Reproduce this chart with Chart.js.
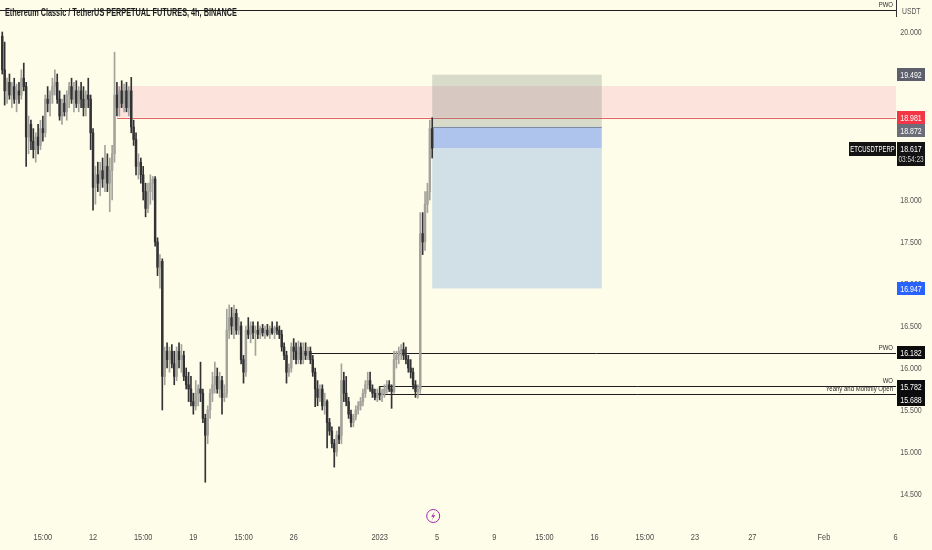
<!DOCTYPE html>
<html><head><meta charset="utf-8">
<script src="https://cdn.jsdelivr.net/npm/chart.js@4.4.0/dist/chart.umd.min.js"></script>
<style>html,body{margin:0;padding:0;background:#fefde9;}canvas{display:block}</style>
</head><body>
<canvas id="c" width="932" height="550" style="width:932px;height:550px"></canvas>
<script>
// ---- data (4h candles, ETCUSDT perpetual) ----
const opens=[19.95,19.55,19.3,19.4,19.25,19.35,19.2,19.3,19.25,19.45,
19.35,18.75,18.9,18.7,18.6,18.75,18.65,18.85,18.8,19.2,
19.15,19.25,19.35,19.4,19.2,19.0,19.15,19.05,19.25,19.35,
19.2,19.3,19.15,19.3,19.2,19.1,19.25,19.2,18.8,18.15,
18.3,18.2,18.35,18.25,18.4,18.2,18.35,18.55,19.25,19.1,
19.3,19.15,19.3,19.1,19.3,18.87,18.72,18.4,18.45,18.3,
18.1,17.9,18.1,18.2,18.25,17.5,17.2,17.27,15.9,16.2,
16.1,16.2,16.05,15.9,16.2,16.1,16.15,15.9,15.8,15.75,
15.6,15.55,15.7,15.75,15.7,15.4,15.2,15.5,15.7,15.8,
15.9,15.75,15.85,15.65,15.7,16.45,16.6,16.5,16.65,16.45,
16.5,16.1,15.95,16.45,16.4,16.5,16.42,16.45,16.4,16.47,
16.42,16.45,16.4,16.47,16.42,16.48,16.45,16.4,16.25,16.15,
15.95,16.0,16.25,16.2,16.1,16.25,16.1,16.2,16.15,16.2,
16.1,15.95,15.75,15.65,15.75,15.55,15.6,15.35,15.25,15.1,
15.0,15.2,15.2,15.85,15.7,15.6,15.45,15.35,15.42,15.5,
15.55,15.6,15.7,15.8,15.85,15.75,15.7,15.65,15.7,15.68,
15.7,15.75,15.8,15.75,15.72,16.1,16.15,16.2,16.22,16.15,
16.1,16.0,15.95,15.8,15.72,15.75,17.6,17.5,17.95,18.1,
18.85];
const highs=[20.0,19.88,19.45,19.5,19.4,19.45,19.38,19.4,19.55,19.63,
19.4,19.0,18.95,18.85,18.8,18.9,18.95,19.0,19.25,19.35,
19.3,19.45,19.55,19.5,19.3,19.2,19.25,19.3,19.4,19.45,
19.4,19.42,19.35,19.4,19.35,19.3,19.45,19.25,18.85,18.4,
18.45,18.45,18.5,18.65,18.55,18.5,18.65,19.76,19.4,19.35,
19.42,19.38,19.4,19.35,19.46,18.95,18.8,18.55,18.5,18.4,
18.2,18.2,18.3,18.28,18.28,17.55,17.35,17.3,16.25,16.3,
16.25,16.28,16.2,16.25,16.3,16.28,16.2,16.0,15.95,15.9,
15.7,15.85,15.8,16.07,15.75,15.45,15.55,15.75,15.95,16.07,
16.0,15.95,15.9,15.8,16.7,16.75,16.72,16.75,16.7,16.6,
16.55,16.15,16.5,16.6,16.55,16.55,16.5,16.55,16.5,16.52,
16.5,16.52,16.5,16.55,16.5,16.55,16.5,16.45,16.3,16.2,
16.05,16.3,16.35,16.3,16.32,16.3,16.3,16.3,16.25,16.25,
16.15,16.0,15.85,15.8,15.8,15.7,15.62,15.4,15.3,15.15,
15.25,15.3,16.05,15.95,15.9,15.65,15.5,15.45,15.55,15.6,
15.65,15.75,15.85,15.95,15.95,15.8,15.75,15.75,15.78,15.75,
15.8,15.85,15.85,15.8,16.2,16.2,16.25,16.28,16.3,16.25,
16.15,16.1,16.0,15.85,15.8,17.85,17.85,18.1,18.2,18.95,
18.98];
const lows=[19.5,19.13,19.15,19.2,19.1,19.15,19.05,19.15,19.2,19.3,
18.4,18.55,18.6,18.5,18.45,18.55,18.6,18.7,18.75,19.05,
19.0,19.15,19.25,19.15,18.95,18.9,19.0,18.95,19.1,19.15,
19.05,19.1,19.05,19.1,19.0,19.0,19.1,18.6,17.88,17.95,
18.1,18.05,18.15,18.1,18.1,17.86,18.0,18.45,19.0,19.0,
19.1,19.05,19.05,19.0,18.8,18.65,18.3,18.25,18.2,18.0,
17.8,17.85,17.95,18.0,17.45,17.1,16.95,15.5,15.8,16.0,
15.95,16.0,15.8,15.85,16.0,15.95,15.85,15.75,15.6,15.55,
15.45,15.5,15.55,15.6,15.35,14.64,15.1,15.4,15.6,15.7,
15.7,15.65,15.45,15.6,15.65,16.35,16.4,16.35,16.4,16.4,
16.05,15.82,15.9,16.35,16.3,16.35,16.15,16.35,16.35,16.38,
16.35,16.38,16.35,16.4,16.35,16.4,16.35,16.2,16.1,15.82,
15.9,15.95,16.1,16.05,16.05,16.05,16.05,16.1,16.1,16.05,
15.9,15.54,15.55,15.6,15.5,15.45,15.05,15.2,15.05,14.82,
14.95,15.1,15.1,15.6,15.55,15.4,15.3,15.3,15.38,15.45,
15.5,15.55,15.65,15.75,15.72,15.65,15.62,15.6,15.62,15.6,
15.65,15.7,15.72,15.52,15.7,16.0,16.05,16.1,16.1,16.05,
15.95,15.88,15.75,15.65,15.64,15.7,17.35,17.4,17.85,18.0,
18.5];
const closes=[19.55,19.3,19.4,19.25,19.35,19.2,19.3,19.25,19.45,19.35,
18.75,18.9,18.7,18.6,18.75,18.65,18.85,18.8,19.2,19.15,
19.25,19.35,19.4,19.2,19.0,19.15,19.05,19.25,19.35,19.2,
19.3,19.15,19.3,19.2,19.1,19.25,19.2,18.8,18.15,18.3,
18.2,18.35,18.25,18.4,18.2,18.35,18.55,19.25,19.1,19.3,
19.15,19.3,19.1,19.3,18.87,18.72,18.4,18.45,18.3,18.1,
17.9,18.1,18.2,18.25,17.5,17.2,17.27,15.9,16.2,16.1,
16.2,16.05,15.9,16.2,16.1,16.15,15.9,15.8,15.75,15.6,
15.55,15.7,15.75,15.7,15.4,15.2,15.5,15.7,15.8,15.9,
15.75,15.85,15.65,15.7,16.45,16.6,16.5,16.65,16.45,16.5,
16.1,15.95,16.45,16.4,16.5,16.42,16.45,16.4,16.47,16.42,
16.45,16.4,16.47,16.42,16.48,16.45,16.4,16.25,16.15,15.95,
16.0,16.25,16.2,16.1,16.25,16.1,16.2,16.15,16.2,16.1,
15.95,15.75,15.65,15.75,15.55,15.6,15.35,15.25,15.1,15.0,
15.2,15.15,15.85,15.7,15.6,15.45,15.35,15.42,15.5,15.55,
15.6,15.7,15.8,15.85,15.75,15.7,15.65,15.7,15.68,15.7,
15.75,15.8,15.75,15.72,16.1,16.15,16.2,16.22,16.15,16.1,
16.0,15.95,15.8,15.72,15.75,17.6,17.5,17.95,18.1,18.85,
18.617];
// time: days counted from Dec 1 2022 00:00; first candle Dec 5 16:00, 4h step
const firstCandleDay = 4 + 16/24;
const candleStepDay = 4/24;
const tickDays   = [7.5, 11, 14.5, 18, 21.5, 25, 31, 35, 39, 42.5, 46, 49.5, 53, 57, 62, 67];
const tickLabels = ['15:00','12','15:00','19','15:00','26','2023','5','9','15:00','16','15:00','23','27','Feb','6'];
const priceTicks = [14.5, 15, 15.5, 16, 16.5, 17, 17.5, 18, 18.5, 19, 19.5, 20];
// horizontal levels
const levelPrices = [20.262, 16.182, 15.782, 15.688];
const levelFromDays = [4.5, 25.25, 31, 31];
const levelNames = ['PWO', 'PWO', 'WO', 'Yearly and Monthly Open'];
// supply zone
const zonePrices = [19.357, 18.981];
const zoneFromDay = 12.667;
// short position tool
const positionDays = [34.667, 46.5];
const positionPrices = [19.492, 18.872, 18.617, 16.947]; // stop, entry, last, target
// axis price tags
const tagPrices = [19.492, 18.981, 18.872, 18.617, 16.947, 16.182, 15.782, 15.688];
const tagColors = ['#5d606b', '#f23645', '#6b6e78', '#131313', '#2962ff', '#0c0c0c', '#0c0c0c', '#0c0c0c'];
const symbolName = 'ETCUSDTPERP';
const countdown = '03:54:23';
const titleText = 'Ethereum Classic / TetherUS PERPETUAL FUTURES, 4h, BINANCE';
const currency = 'USDT';

const X_MIN = 4.508, X_MAX = 67.03, Y_MIN = 14.131, Y_MAX = 20.381;
const UP = '#a3a39c', DOWN = '#333336';
const FONT = "'Liberation Sans',Arial,sans-serif";

const candleDays = opens.map((_, i) => firstCandleDay + i * candleStepDay);
const wickData = candleDays.map((d, i) => ({x: d, y: [lows[i], highs[i]]}));
const bodyData = candleDays.map((d, i) => ({x: d, y: [Math.min(opens[i], closes[i]), Math.max(opens[i], closes[i])]}));
const colorFn = c => closes[c.dataIndex] >= opens[c.dataIndex] ? UP : DOWN;

function txt(ctx, s, x, y, size, color, align, sx, weight) {
  ctx.save();
  ctx.font = (weight || 'normal') + ' ' + size + 'px ' + FONT;
  ctx.fillStyle = color;
  ctx.textAlign = align || 'left';
  ctx.textBaseline = 'middle';
  ctx.translate(x, y);
  ctx.scale(sx || 0.78, 1);
  ctx.fillText(s, 0, 0);
  ctx.restore();
}

const overlay = {
  id: 'overlay',
  beforeDatasetsDraw(chart) {
    const {ctx, chartArea: a, scales: {x, y}} = chart;
    ctx.save();
    // zone
    const zx = x.getPixelForValue(zoneFromDay);
    const zt = y.getPixelForValue(zonePrices[0]), zb = y.getPixelForValue(zonePrices[1]);
    ctx.fillStyle = 'rgba(245,130,170,0.2)';
    ctx.fillRect(zx, zt, a.right - zx, zb - zt);
    ctx.strokeStyle = 'rgba(225,70,80,0.85)';
    ctx.lineWidth = 1;
    ctx.beginPath(); ctx.moveTo(zx, Math.round(zb) + 0.5); ctx.lineTo(a.right, Math.round(zb) + 0.5); ctx.stroke();
    // position
    const px0 = x.getPixelForValue(positionDays[0]), px1 = x.getPixelForValue(positionDays[1]);
    const [ps, pe, pl, pt] = positionPrices.map(p => y.getPixelForValue(p));
    ctx.fillStyle = '#d1dfe7';
    ctx.fillRect(px0, pl, px1 - px0, pt - pl);
    ctx.fillStyle = '#aec4ec';
    ctx.fillRect(px0, pe, px1 - px0, pl - pe);
    ctx.fillStyle = 'rgba(106,121,113,0.25)';
    ctx.fillRect(px0, ps, px1 - px0, pe - ps);
    ctx.strokeStyle = 'rgba(110,120,130,0.7)';
    ctx.beginPath(); ctx.moveTo(px0, Math.round(pe) + 0.5); ctx.lineTo(px1, Math.round(pe) + 0.5); ctx.stroke();
    // levels
    ctx.strokeStyle = '#1e1e1e';
    levelPrices.forEach((p, i) => {
      const ly = Math.round(y.getPixelForValue(p)) + 0.5;
      const lx = Math.max(a.left, x.getPixelForValue(levelFromDays[i]));
      ctx.beginPath(); ctx.moveTo(lx, ly); ctx.lineTo(a.right, ly); ctx.stroke();
    });
    ctx.restore();
  },
  afterDraw(chart) {
    const {ctx, chartArea: a, scales: {x, y}} = chart;
    // axis labels (from the library's scales)
    x.ticks.forEach((t, i) => txt(ctx, tickLabels[i], x.getPixelForValue(t.value), 537, 9.5, '#4a4a4a', 'center', 0.78));
    y.ticks.forEach(t => txt(ctx, Number(t.value).toFixed(3), a.right + 15, y.getPixelForValue(t.value), 9.5, '#555555', 'center', 0.74));
    // level labels
    levelPrices.forEach((p, i) => txt(ctx, levelNames[i], a.right - 3, y.getPixelForValue(p) - 5, 7.5, '#2a2a2a', 'right', 0.8));
    // tags
    const order = tagPrices.map((p, i) => ({i, y: y.getPixelForValue(p)})).sort((m, n) => m.y - n.y);
    let prev = -100;
    order.forEach(o => { if (o.y < prev + 13) o.y = prev + 13; prev = o.y; });
    order.forEach(o => {
      const i = o.i, two = tagPrices[i] === positionPrices[2];
      const top = Math.round(o.y - 6.5);
      const h = two ? 24 : 13;
      ctx.fillStyle = tagColors[i];
      ctx.fillRect(a.right + 1, top, 28, h);
      txt(ctx, tagPrices[i].toFixed(3), a.right + 15, top + 7, 9.5, '#ffffff', 'center', 0.74);
      if (two) {
        txt(ctx, countdown, a.right + 15, top + 18, 9, '#cfcfcf', 'center', 0.72);
        ctx.fillStyle = tagColors[i];
        ctx.fillRect(a.right - 47, top, 47, 14);
        txt(ctx, symbolName, a.right - 23.5, top + 7.5, 8.5, '#ffffff', 'center', 0.7);
      }
    });
    // currency + separator
    txt(ctx, currency, a.right + 6, 12, 8.5, '#555555', 'left', 0.8);
    ctx.save();
    ctx.strokeStyle = '#333';
    ctx.lineWidth = 1;
    ctx.beginPath(); ctx.moveTo(a.right + 0.5, 0); ctx.lineTo(a.right + 0.5, 17); ctx.stroke();
    ctx.restore();
    // title
    txt(ctx, titleText, 5, 13.5, 10, '#1e1e1e', 'left', 0.73, 'bold');
    // lightning marker
    ctx.save();
    const lx = x.getPixelForValue(candleDays[candleDays.length - 1]) + 1, ly = 516;
    ctx.strokeStyle = '#9c27b0';
    ctx.lineWidth = 1;
    ctx.beginPath(); ctx.arc(lx, ly, 6.5, 0, Math.PI * 2); ctx.stroke();
    ctx.fillStyle = '#9c27b0';
    ctx.beginPath();
    ctx.moveTo(lx + 1.5, ly - 4.5); ctx.lineTo(lx - 2, ly + 0.8); ctx.lineTo(lx + 0.2, ly + 0.8);
    ctx.lineTo(lx - 1.5, ly + 4.5); ctx.lineTo(lx + 2, ly - 0.8); ctx.lineTo(lx - 0.2, ly - 0.8);
    ctx.closePath(); ctx.fill();
    ctx.restore();
  }
};

new Chart(document.getElementById('c'), {
  type: 'bar',
  data: {datasets: [
    {data: wickData, backgroundColor: colorFn, barThickness: 1, grouped: false, borderWidth: 0},
    {data: bodyData, backgroundColor: colorFn, barThickness: 1.8, grouped: false, borderWidth: 0, minBarLength: 1}
  ]},
  options: {
    responsive: false, animation: false,
    layout: {padding: 0, autoPadding: false},
    plugins: {legend: {display: false}, tooltip: {enabled: false}, title: {display: false}},
    scales: {
      x: {type: 'linear', min: X_MIN, max: X_MAX, offset: false,
        grid: {display: false, drawTicks: false}, border: {display: false},
        afterBuildTicks: s => { s.ticks = tickDays.map(v => ({value: v})); },
        afterFit: s => { s.height = 25; },
        ticks: {display: false, autoSkip: false}},
      y: {position: 'right', min: Y_MIN, max: Y_MAX,
        grid: {display: false, drawTicks: false}, border: {display: false},
        afterBuildTicks: s => { s.ticks = priceTicks.map(v => ({value: v})); },
        afterFit: s => { s.width = 36; },
        ticks: {display: false}}
    }
  },
  plugins: [overlay]
});
</script>
</body></html>
